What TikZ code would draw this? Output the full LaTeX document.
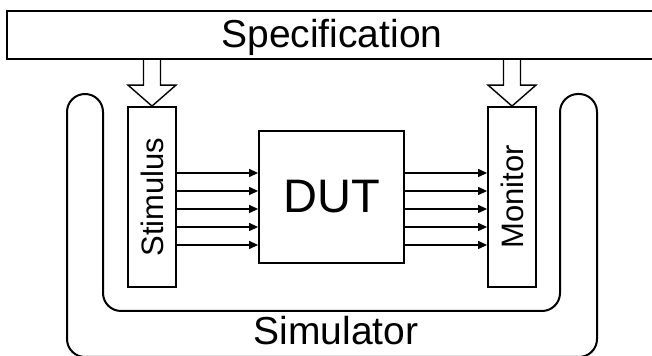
\documentclass[tikz,border=0pt]{standalone}
\usepackage{fontspec}
\setmainfont{Liberation Sans}
\usetikzlibrary{arrows.meta, positioning, calc}

\begin{document}
\begin{tikzpicture}[x=0.5pt, y=-0.5pt, >={Triangle[length=4.5pt, width=4pt]},
    block/.style={draw, line width=0.9pt, inner sep=0pt},
    sig/.style={->, line width=0.6pt},
    hollow/.style={draw, line width=0.7pt, line join=miter}]
    \clip (0,0) rectangle (652,356);

    \node (spec) [block, line width=1pt, minimum width=325pt, minimum height=24pt, text depth=2pt, font=\fontsize{19.5}{22}\selectfont] at (332,35) {Specification};
    \node (stim) [block, minimum width=24pt, minimum height=90pt, font=\fontsize{15.5}{18}\selectfont] at (152,197) {\rotatebox{90}{Stimulus}};
    \node (mon) [block, minimum width=24pt, minimum height=90pt, font=\fontsize{15.5}{18}\selectfont] at (512,197) {\rotatebox{90}{Monitor}};
    \node (dut) [block, minimum width=72.5pt, minimum height=66pt, font=\fontsize{23.5}{26}\selectfont] at (331.5,197) {DUT};

    % simulator frame
    \draw[line width=1pt, rounded corners=9pt] (67,200) -- (67,94) -- (103,94) -- (103,311) -- (560,311) -- (560,94) -- (597,94) -- (597,357) -- (67,357) -- cycle;
    \node (sim) [font=\fontsize{19.5}{22}\selectfont] at (336,331) {Simulator};

    % hollow arrows from the specification
    \draw[hollow] ($(stim.north |- spec.south)+(-8.5,0)$) -- ($(stim.north)+(-8.5,-21)$) -- ($(stim.north)+(-24,-21)$) -- (stim.north) -- ($(stim.north)+(24,-21)$) -- ($(stim.north)+(8.5,-21)$) -- ($(stim.north |- spec.south)+(8.5,0)$);
    \draw[hollow] ($(mon.north |- spec.south)+(-8.5,0)$) -- ($(mon.north)+(-8.5,-21)$) -- ($(mon.north)+(-24,-21)$) -- (mon.north) -- ($(mon.north)+(24,-21)$) -- ($(mon.north)+(8.5,-21)$) -- ($(mon.north |- spec.south)+(8.5,0)$);

    % signals
    \foreach \y in {173,191,209,227,245} {
        \draw[sig] (stim.east |- 0,\y) -- (dut.west |- 0,\y);
        \draw[sig] (dut.east |- 0,\y) -- (mon.west |- 0,\y);
    }
\end{tikzpicture}
\end{document}
